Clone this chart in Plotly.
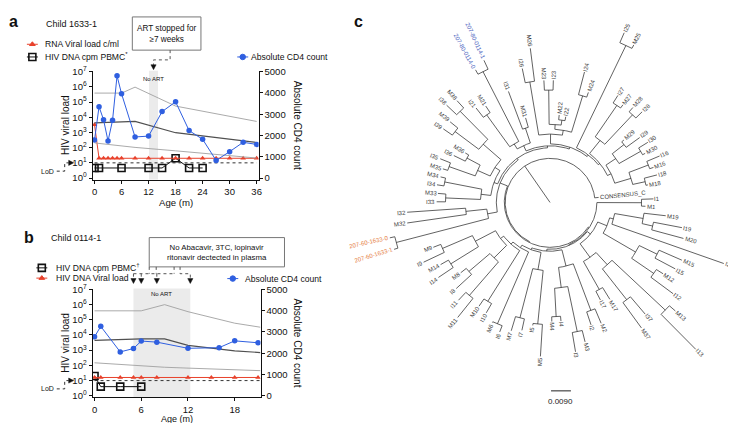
import math
import plotly.graph_objects as go

W, H = 736, 423

# ---------------- data: panel a (child 1633-1) ----------------
A_CD4_AGE = [0, 1, 2, 3, 4, 5, 6, 9, 12, 15, 18, 21, 24, 27, 30, 33, 36]
A_CD4 = [1790, 3350, 2740, 1740, 2710, 4800, 3960, 1930, 1970, 3120, 3580, 2230, 1820, 830, 1240, 1680, 1580]
A_RNA_AGE = [0, 1, 2, 3, 4, 5, 6, 9, 12, 15, 18, 21, 24, 27, 30, 33, 36]
A_RNA = [3200, 20, 20, 20, 20, 20, 20, 20, 20, 20, 20, 20, 20, 20, 20, 20, 20]
A_DNA_AGE = [0, 1, 6, 12, 15, 18, 21, 24]
A_DNA = [4.6, 4.6, 4.6, 4.6, 4.6, 20, 4.6, 4.6]
A_REF_AGE = [0, 6, 9, 18, 36]
A_REF_P95 = [3990, 3990, 4270, 3380, 2660]
A_REF_P50 = [2590, 2650, 2660, 2130, 1670]
A_REF_P5 = [1650, 1500, 1440, 1280, 940]
A_NO_ART = [12.1, 14.1]

# ---------------- data: panel b (child 0114-1) ----------------
B_CD4_AGE = [0, 0.8, 3.3, 5, 6, 8, 12, 16, 18, 21]
B_CD4 = [2770, 3260, 2060, 2220, 2570, 2520, 2230, 2260, 2580, 2490]
B_RNA_AGE = [0, 0.8, 3.3, 5, 6, 8, 12, 15, 18, 21]
B_RNA = [16, 16, 16, 16, 16, 16, 16, 16, 16, 16]
B_DNA_AGE = [0, 0.8, 3.3, 6]
B_DNA = [20, 4, 4, 4]
B_REF_AGE = [0, 6, 9, 12, 18, 21.3]
B_REF_P95 = [3990, 3990, 4280, 3950, 3410, 3220]
B_REF_P50 = [2600, 2675, 2675, 2370, 2110, 2030]
B_REF_P5 = [1550, 1390, 1340, 1300, 1240, 1180]
B_NO_ART = [5.0, 12.3]
B_DRUG_UNDETECTED_AGE = [5.0, 6.0, 8.0, 12.3]

LOD = 10
LOG_TICKS = [10 ** k for k in range(8)]
LOG_TICKTEXT = ["10<sup>%d</sup>" % k for k in range(8)]
CD4_TICKS = [0, 1000, 2000, 3000, 4000, 5000]

# ---------------- data: panel c (tree, node depth from root in 1e-3 subst./site) ----------------
# internal node = [depth, child, child, ...]; leaf = (name, depth)
K1 = [41.4, ("I1", 46.8), ("M1", 43.2)]
K2 = [23.4,
      [27.9,
       [29.7, [42.8, ("M19", 52.7), [47.7, ("I19", 60.8), ("M20", 62.6)]], ("I20", 83.5)],
       [45.0, [54.0, ("M15", 65.3), ("I15", 64.4)], [57.2, ("M12", 60.8), ("I12", 69.8)]]],
      [31.1,
       [38.7, [72.0, ("M13", 75.6), ("I13", 94.5)], [56.7, ("I37", 67.1), ("M37", 71.1)]],
       [45.9, ("M17", 52.2), ("I17", 50.4)]]]
K3 = [30.2, [53.1, ("M2", 60.3), ("I2", 59.4)],
      [39.6, [60.8, ("M3", 66.2), ("I3", 69.8)], [52.7, ("I4", 54.9), ("M4", 54.9)]]]
K4 = [31.5, [56.3, ("M5", 71.1), ("I5", 57.2)], [54.9, ("I7", 60.3), ("M7", 61.7)]]
LB = [24.8, [60.8, ("I6", 63.9), ("M6", 61.2)],
      [26.1, [53.6, ("I10", 58.5), ("M10", 57.6)],
       [27.9, [36.0, [56.3, ("M11", 67.5), ("I11", 61.2)], [48.6, ("I8", 58.1), ("M8", 51.8)]],
        [38.3, [53.1, ("I14", 61.2), ("M14", 57.2)], [53.1, ("I9", 63.5), ("M9", 56.7)]]]]]
LM = [28.8, [72.0, ("207-60-1633-1", 73.8), ("207-60-1633-0", 74.3)], [38.3, ("M32", 65.3), ("I32", 64.8)]]
LT = [27.0, [31.5, [47.3, ("I33", 51.3), ("M33", 50.9)], [48.6, ("I34", 51.8), ("M34", 50.9)]],
      [29.7, [36.0, [48.6, ("M35", 50.9), ("I35", 53.6)], [42.8, ("I36", 48.6), ("M36", 44.6)]],
       [40.5, [54.0, ("I39", 59.0), ("M39", 58.5)], [58.5, ("I38", 64.8), ("M38", 63.0)]]]]
TP = [28.8, [31.5, [49.5, ("I21", 54.9), ("M21", 53.1)], [67.5, ("207-80-0114-0", 69.8), ("207-80-0114-1", 72.0)]],
      [36.0, ("I31", 54.5), ("M31", 40.5)]]
T3 = [31.5, [56.3, ("I26", 63.0), ("M26", 71.6)],
      [33.8, [36.0, [51.8, ("M23", 56.3), ("I23", 56.3)], [38.3, ("M22", 40.5), ("I22", 40.1)]],
       [51.3, ("I24", 62.1), ("M24", 53.6)]]]
K25 = [80.1, ("I25", 85.1), ("M25", 81.9)]
K27 = [36.5, [54.0, ("I27", 58.1), ("M27", 55.8)], [55.0, ("M28", 57.6), ("I28", 59.0)]]
K29 = [30.6, [36.0, [42.8, ("M29", 44.1), ("I29", 50.4)], [47.3, ("I30", 52.2), ("M30", 48.6)]],
       [38.3, [47.7, ("I16", 54.0), ("M16", 49.5)], [44.1, ("I18", 50.0), ("M18", 45.0)]]]
CLADES_LOWER = [K1, K2, K3, K4, LB]
BACKBONE_LOWER_DEPTHS = [21.2, 21.6, 22.5, 23.4]
CLADES_UPPER = [LM, LT, TP, T3, K25, K27, K29]
BACKBONE_UPPER_DEPTHS = [24.3, 25.2, 26.1, 27.0, 27.9, 28.8]
INGROUP_DEPTH = 20.7
OUTGROUP = ("CONSENSUS_C", 22.1)
ROOT_CHILD_DEPTH = 20.3
TREE_UNIT = 1e-3
SCALE_BAR = 0.0090
LABEL_COLORS = {"207-60-1633-0": "#e57a3c", "207-60-1633-1": "#e57a3c",
                "207-80-0114-0": "#4a64c0", "207-80-0114-1": "#4a64c0"}

# ---------------- layout constants ----------------
FONT = "Liberation Sans, Arial, sans-serif"
RED = "#e8412b"
BLUE = "#2f5fe0"
GREY_L = "#a0a0a0"
GREY_D = "#505050"
PA = dict(x0=84, x1=251, xr=[-0.44, 36.44], y0=58.2, y1=169.6)
PB = dict(x0=84, x1=253, xr=[-0.255, 21.33], y0=281.2, y1=392.6)
YLOG = [-0.1, 7.05]
CD4R = [YLOG[0] / 7 * 5000, YLOG[1] / 7 * 5000]


def P(xp, yp):
    return xp / W, 1 - yp / H


def xpx(p, age):
    return p["x0"] + (age - p["xr"][0]) / (p["xr"][1] - p["xr"][0]) * (p["x1"] - p["x0"])


def ypx_log(p, v):
    return p["y1"] - (math.log10(v) - YLOG[0]) / (YLOG[1] - YLOG[0]) * (p["y1"] - p["y0"])


fig = go.Figure()


def add_panel(xa, ya, ya2, ref_age, p95, p50, p5, cd4_age, cd4, dna_age, dna, rna_age, rna, xmax):
    for vals, col, w in [(p95, GREY_L, 0.9), (p50, GREY_D, 1.2), (p5, GREY_L, 0.9)]:
        fig.add_trace(go.Scatter(x=ref_age, y=vals, mode="lines", line=dict(color=col, width=w),
                                 xaxis=xa, yaxis=ya2, showlegend=False, hoverinfo="skip"))
    fig.add_trace(go.Scatter(x=cd4_age, y=cd4, mode="lines+markers", line=dict(color=BLUE, width=1),
                             marker=dict(color=BLUE, size=5.5), xaxis=xa, yaxis=ya2, showlegend=False))
    fig.add_trace(go.Scatter(x=[0, xmax], y=[LOD, LOD], mode="lines", line=dict(color="#333", width=1, dash="dot"),
                             xaxis=xa, yaxis=ya, showlegend=False, hoverinfo="skip"))
    fig.add_trace(go.Scatter(x=dna_age, y=dna, mode="lines+markers", line=dict(color="#111", width=1),
                             marker=dict(symbol="square-open", size=7, color="#111", line=dict(width=1.6)),
                             xaxis=xa, yaxis=ya, showlegend=False))
    fig.add_trace(go.Scatter(x=rna_age, y=rna, mode="lines+markers", line=dict(color=RED, width=1),
                             marker=dict(symbol="triangle-up", size=5, color=RED), xaxis=xa, yaxis=ya,
                             showlegend=False))


add_panel("x", "y", "y2", A_REF_AGE, A_REF_P95, A_REF_P50, A_REF_P5, A_CD4_AGE, A_CD4,
          A_DNA_AGE, A_DNA, A_RNA_AGE, A_RNA, 36)
add_panel("x2", "y3", "y4", B_REF_AGE, B_REF_P95, B_REF_P50, B_REF_P5, B_CD4_AGE, B_CD4,
          B_DNA_AGE, B_DNA, B_RNA_AGE, B_RNA, PB["xr"][1])

# ---------------- tree layout ----------------
def build_backbone(depths, clades):
    node = [depths[-1], clades[-2], clades[-1]]
    for d, c in zip(reversed(depths[:-1]), reversed(clades[:-2])):
        node = [d, c, node]
    return node


TREE = [0.0, [ROOT_CHILD_DEPTH,
              [INGROUP_DEPTH, build_backbone(BACKBONE_LOWER_DEPTHS, CLADES_LOWER),
               build_backbone(BACKBONE_UPPER_DEPTHS, CLADES_UPPER)],
              OUTGROUP]]

leaves = []


def collect(n):
    if isinstance(n, tuple):
        leaves.append(n)
    else:
        for c in n[1:]:
            collect(c)


collect(TREE)
ARC_START, ARC_SPAN = -2.0, 356.0
leaf_angle = {}
for i, lf in enumerate(leaves):
    leaf_angle[lf[0]] = ARC_START + i * ARC_SPAN / (len(leaves) - 1)


def depth_of(n):
    return n[1] if isinstance(n, tuple) else n[0]


def angle_of(n):
    if isinstance(n, tuple):
        return leaf_angle[n[0]]
    return (angle_of(n[1]) + angle_of(n[-1])) / 2


def pt(r, a):
    t = math.radians(a)
    return r * math.cos(t), -r * math.sin(t)


tx, ty = [], []


def draw(n, parent_depth):
    d = depth_of(n)
    a = angle_of(n)
    if parent_depth is not None:
        x0, y0 = pt(parent_depth, a)
        x1, y1 = pt(d, a)
        tx.extend([x0, x1, None])
        ty.extend([y0, y1, None])
    if not isinstance(n, tuple):
        a0, a1 = angle_of(n[1]), angle_of(n[-1])
        if a1 > a0:
            steps = max(2, int((a1 - a0) / 1.0) + 1)
            for k in range(steps + 1):
                x, y = pt(d, a0 + (a1 - a0) * k / steps)
                tx.append(x)
                ty.append(y)
            tx.append(None)
            ty.append(None)
        for c in n[1:]:
            draw(c, d)


draw(TREE, None)
fig.add_trace(go.Scatter(x=tx, y=ty, mode="lines", line=dict(color="#3a3a3a", width=0.8),
                         xaxis="x3", yaxis="y5", showlegend=False, hoverinfo="skip"))

PX2U = 0.45  # tree units per pixel
bar_x0 = 0.45
bar_y = -86.85
fig.add_trace(go.Scatter(x=[bar_x0, bar_x0 + SCALE_BAR / TREE_UNIT], y=[bar_y, bar_y], mode="lines",
                         line=dict(color="#222", width=1), xaxis="x3", yaxis="y5", showlegend=False,
                         hoverinfo="skip"))

CW = {"M": 0.833, "I": 0.278, "C": 0.722, "O": 0.778, "N": 0.722, "S": 0.667, "E": 0.667,
      "U": 0.722, "_": 0.556, "-": 0.333}
LEAF_FS = 6
annotations = []
for name, d in leaves:
    a = leaf_angle[name]
    w = sum(CW.get(ch, 0.556) for ch in name) * LEAF_FS
    r = d + (1.6 + w / 2) * PX2U
    x, y = pt(r, a)
    t = ((a + 180) % 360) - 180
    if -90 <= t <= 90:
        ta = t
    else:
        ta = t - 180 if t > 0 else t + 180
    annotations.append(dict(x=x, y=y, xref="x3", yref="y5", text=name, showarrow=False,
                            textangle=ta, xanchor="center", yanchor="middle",
                            font=dict(family=FONT, size=LEAF_FS, color=LABEL_COLORS.get(name, "#3a3a3a"))))
annotations.append(dict(x=bar_x0 + SCALE_BAR / TREE_UNIT / 2, y=bar_y - 10 * PX2U * 1.1, xref="x3", yref="y5",
                        text="%.4f" % SCALE_BAR, showarrow=False, xanchor="center", yanchor="middle",
                        font=dict(family=FONT, size=8, color="#222")))


# ---------------- text / decorations ----------------
def T(xp, yp, s, size, xanchor="left", yanchor="middle", angle=0, color="#111"):
    x, y = P(xp, yp)
    annotations.append(dict(x=x, y=y, xref="paper", yref="paper", text=s, showarrow=False,
                            xanchor=xanchor, yanchor=yanchor, textangle=angle,
                            font=dict(family=FONT, size=size, color=color)))


T(4.5, 8, "<b>a</b>", 16, "center")
T(35, 10, "Child 1633-1", 9)
T(351, 8, "<b>c</b>", 16, "center")
T(20, 229, "<b>b</b>", 16, "center")
T(40, 229, "Child 0114-1", 9)
T(34, 31, "RNA Viral load c/ml", 8.6)
T(34, 44, "HIV DNA cpm PBMC<sup>*</sup>", 8.6)
T(241, 44, "Absolute CD4 count", 8.6)
T(45, 260, "HIV DNA cpm PBMC<sup>†</sup>", 8.6)
T(45, 270.5, "HIV DNA Viral load", 8.6)
T(235, 271, "Absolute CD4 count", 8.6)
T(158.5, 20, "ART stopped for<br>≥7 weeks", 8.2, "center")
T(209, 244, "No Abacavir, 3TC, lopinavir<br>ritonavir dectected in plasma", 7.8, "center")
T(xpx(PA, sum(A_NO_ART) / 2), 67, "No ART", 6, "center")
T(xpx(PB, sum(B_NO_ART) / 2), 287, "No ART", 6, "center")
T((PA["x0"] + PA["x1"]) / 2, 193, "Age (m)", 9.6, "center")
T((PB["x0"] + PB["x1"]) / 2, 414.5, "Age (m)", 9, "center")
for p in [PA, PB]:
    yc = (p["y0"] + p["y1"]) / 2
    T(57, yc, "HIV viral load", 10, "center", angle=-90)
    T(290, yc, "Absolute CD4 count", 10, "center", angle=90)
    T(47, ypx_log(p, LOD) + 8.5, "LoD", 7, "right")

shapes = []


def seg(pts, dash="dot", color="#555", width=1):
    path = "M" + " L".join("%f,%f" % P(x, y) for x, y in pts)
    shapes.append(dict(type="path", path=path, xref="paper", yref="paper",
                       line=dict(color=color, width=width, dash=dash)))


def head_down(x, y):
    path = "M%f,%f L%f,%f L%f,%f Z" % (*P(x - 2.6, y), *P(x + 2.6, y), *P(x, y + 5))
    shapes.append(dict(type="path", path=path, xref="paper", yref="paper", fillcolor="#111",
                       line=dict(color="#111", width=0.5)))


def head_right(x, y):
    path = "M%f,%f L%f,%f L%f,%f Z" % (*P(x, y - 2.6), *P(x, y + 2.6), *P(x + 5, y))
    shapes.append(dict(type="path", path=path, xref="paper", yref="paper", fillcolor="#111",
                       line=dict(color="#111", width=0.5)))


# shading
for xa, rng in [("x", A_NO_ART), ("x2", B_NO_ART)]:
    shapes.append(dict(type="rect", xref=xa, yref="y domain" if xa == "x" else "y3 domain",
                       x0=rng[0], x1=rng[1], y0=0, y1=1, fillcolor="#ebebeb", line=dict(width=0), layer="below"))

# boxes
for x0, y0, x1, y1 in [(124, 3, 193, 37), (141, 229, 277, 259)]:
    a0 = P(x0, y1)
    a1 = P(x1, y0)
    shapes.append(dict(type="rect", xref="paper", yref="paper", x0=a0[0], y0=a0[1], x1=a1[0], y1=a1[1],
                       line=dict(color="#777", width=1), fillcolor="rgba(0,0,0,0)"))

# panel a arrow
ax_a = xpx(PA, sum(A_NO_ART) / 2)
seg([(162, 37), (162, 47), (ax_a, 47), (ax_a, 52)])
head_down(ax_a, 52)
# panel b arrows
bx = [xpx(PB, v) for v in B_DRUG_UNDETECTED_AGE]
seg([(bx[0], 266), (166, 266)])
for xv in (141, 148, 166):
    seg([(xv, 259), (xv, 266)])
for xv in bx[:3]:
    seg([(xv, 266), (xv, 271)])
    head_down(xv, 271)
seg([(172, 259), (172, 266), (bx[3], 266), (bx[3], 271)])
head_down(bx[3], 271)
# LoD pointers
for p in [PA, PB]:
    yl = ypx_log(p, LOD)
    seg([(48, yl + 8.5), (56, yl + 8.5), (56, yl), (60, yl)], color="#333")
    head_right(60, yl)


# legend glyphs on pixel overlay axis
def glyph(xc, yc, color, symbol, size, lw=1.0):
    fig.add_trace(go.Scatter(x=[xc - 5.5, xc + 5.5], y=[yc, yc], mode="lines", line=dict(color=color, width=1),
                             xaxis="x4", yaxis="y6", showlegend=False, hoverinfo="skip"))
    fig.add_trace(go.Scatter(x=[xc], y=[yc], mode="markers",
                             marker=dict(symbol=symbol, size=size, color=color, line=dict(width=lw, color=color)),
                             xaxis="x4", yaxis="y6", showlegend=False, hoverinfo="skip"))


glyph(23.5, 31, RED, "triangle-up", 5)
glyph(23.5, 44, "#111", "square-open", 7, 1.6)
glyph(235, 44, BLUE, "circle", 5.5)
glyph(33, 260, "#111", "square-open", 7, 1.6)
glyph(33, 270.5, RED, "triangle-up", 5)
glyph(225, 271, BLUE, "circle", 5.5)

# ---------------- axes ----------------
ax_common = dict(showline=True, linecolor="#111", linewidth=1, ticks="outside", ticklen=3, tickwidth=1,
                 tickcolor="#111", showgrid=False, zeroline=False,
                 tickfont=dict(family=FONT, size=9.5, color="#111"))


def dom_y(p):
    return [1 - p["y1"] / H, 1 - p["y0"] / H]


fig.update_layout(
    width=W, height=H, autosize=False, margin=dict(l=0, r=0, t=0, b=0),
    paper_bgcolor="white", plot_bgcolor="rgba(0,0,0,0)", showlegend=False,
    xaxis=dict(domain=[PA["x0"] / W, PA["x1"] / W], range=PA["xr"], anchor="y",
               tickvals=[0, 6, 12, 18, 24, 30, 36], **ax_common),
    yaxis=dict(domain=dom_y(PA), type="log", range=YLOG, anchor="x", tickvals=LOG_TICKS,
               ticktext=LOG_TICKTEXT, **ax_common),
    yaxis2=dict(overlaying="y", side="right", anchor="x", range=CD4R, tickvals=CD4_TICKS, **ax_common),
    xaxis2=dict(domain=[PB["x0"] / W, PB["x1"] / W], range=PB["xr"], anchor="y3",
                tickvals=[0, 6, 12, 18], **ax_common),
    yaxis3=dict(domain=dom_y(PB), type="log", range=YLOG, anchor="x2", tickvals=LOG_TICKS,
                ticktext=LOG_TICKTEXT, **ax_common),
    yaxis4=dict(overlaying="y3", side="right", anchor="x2", range=CD4R, tickvals=CD4_TICKS, **ax_common),
    xaxis3=dict(domain=[340 / W, 1], range=[(340 - 544) * PX2U, (736 - 544) * PX2U], visible=False,
                anchor="y5"),
    yaxis5=dict(domain=[0, 1], range=[(193 - 423) * PX2U, 193 * PX2U], visible=False, anchor="x3"),
    xaxis4=dict(domain=[0, 1], range=[0, W], visible=False, anchor="y6"),
    yaxis6=dict(domain=[0, 1], range=[H, 0], visible=False, anchor="x4"),
    annotations=annotations,
    shapes=shapes,
)

fig.write_html("out.html")
